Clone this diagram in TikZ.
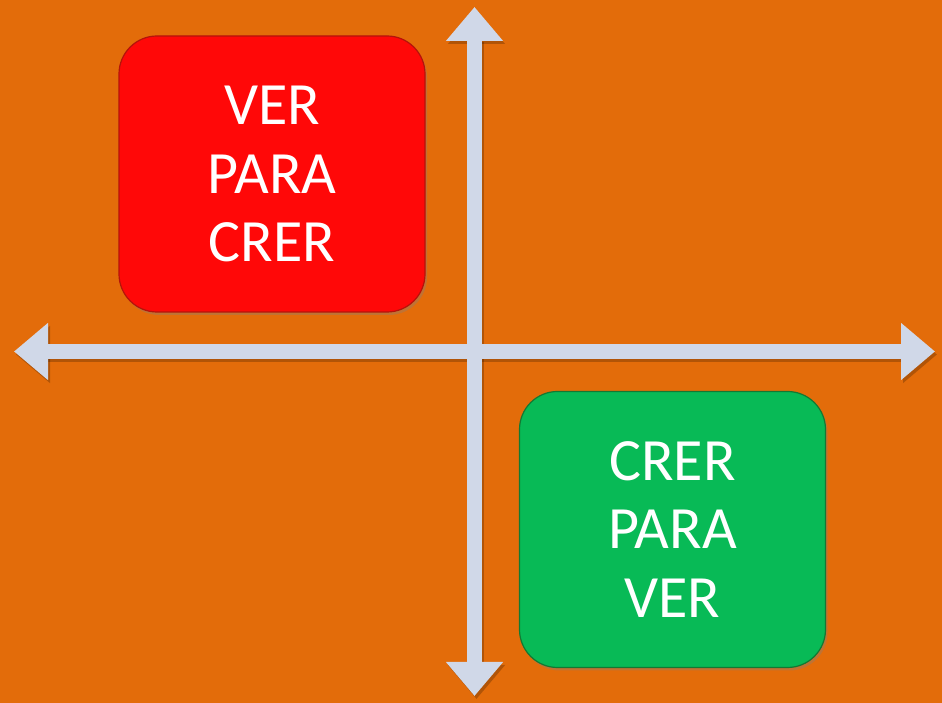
\documentclass[tikz,border=0pt]{standalone}
\usepackage{fontspec}
\setmainfont{Carlito}
\usetikzlibrary{arrows.meta,shadows}
\definecolor{bgorange}{RGB}{227,108,10}
\definecolor{axiscol}{RGB}{208,216,232}
\definecolor{redfill}{RGB}{255,8,8}
\definecolor{redline}{RGB}{180,20,10}
\definecolor{greenfill}{RGB}{8,186,86}
\definecolor{greenline}{RGB}{20,120,50}
\tikzset{
  axis/.style={draw=axiscol, line width=15pt, {Triangle[width=55pt,length=34pt]}-{Triangle[width=55pt,length=34pt]}},
  axisshadow/.style={draw=black, opacity=0.22, line width=15pt, {Triangle[width=55pt,length=34pt]}-{Triangle[width=55pt,length=34pt]}},
  card/.style={rounded corners=38pt, minimum width=306pt, minimum height=276pt, inner sep=0pt,
    line width=1.2pt, text=white, align=center, font=\fontsize{60}{68.5}\selectfont,
    drop shadow={shadow xshift=2pt, shadow yshift=-3pt, opacity=0.35}},
}
\begin{document}
\begin{tikzpicture}[x=1pt,y=1pt]
\fill[bgorange] (0,0) rectangle (942,703);
\useasboundingbox (0,0) rectangle (942,703);
\coordinate (T) at (474.5,696);
\coordinate (B) at (474.5,7);
\coordinate (L) at (14,351.5);
\coordinate (R) at (935,351.5);
\draw[axisshadow, transform canvas={shift={(2pt,-3pt)}}] (T) -- (B);
\draw[axisshadow, transform canvas={shift={(2pt,-3pt)}}] (L) -- (R);
\draw[axis] (T) -- (B);
\draw[axis] (L) -- (R);
\node[card, fill=redfill, draw=redline] (ver) at (272,529) {VER\\PARA\\CRER};
\node[card, fill=greenfill, draw=greenline] (crer) at (672.5,173.5) {CRER\\PARA\\VER};
\end{tikzpicture}
\end{document}
